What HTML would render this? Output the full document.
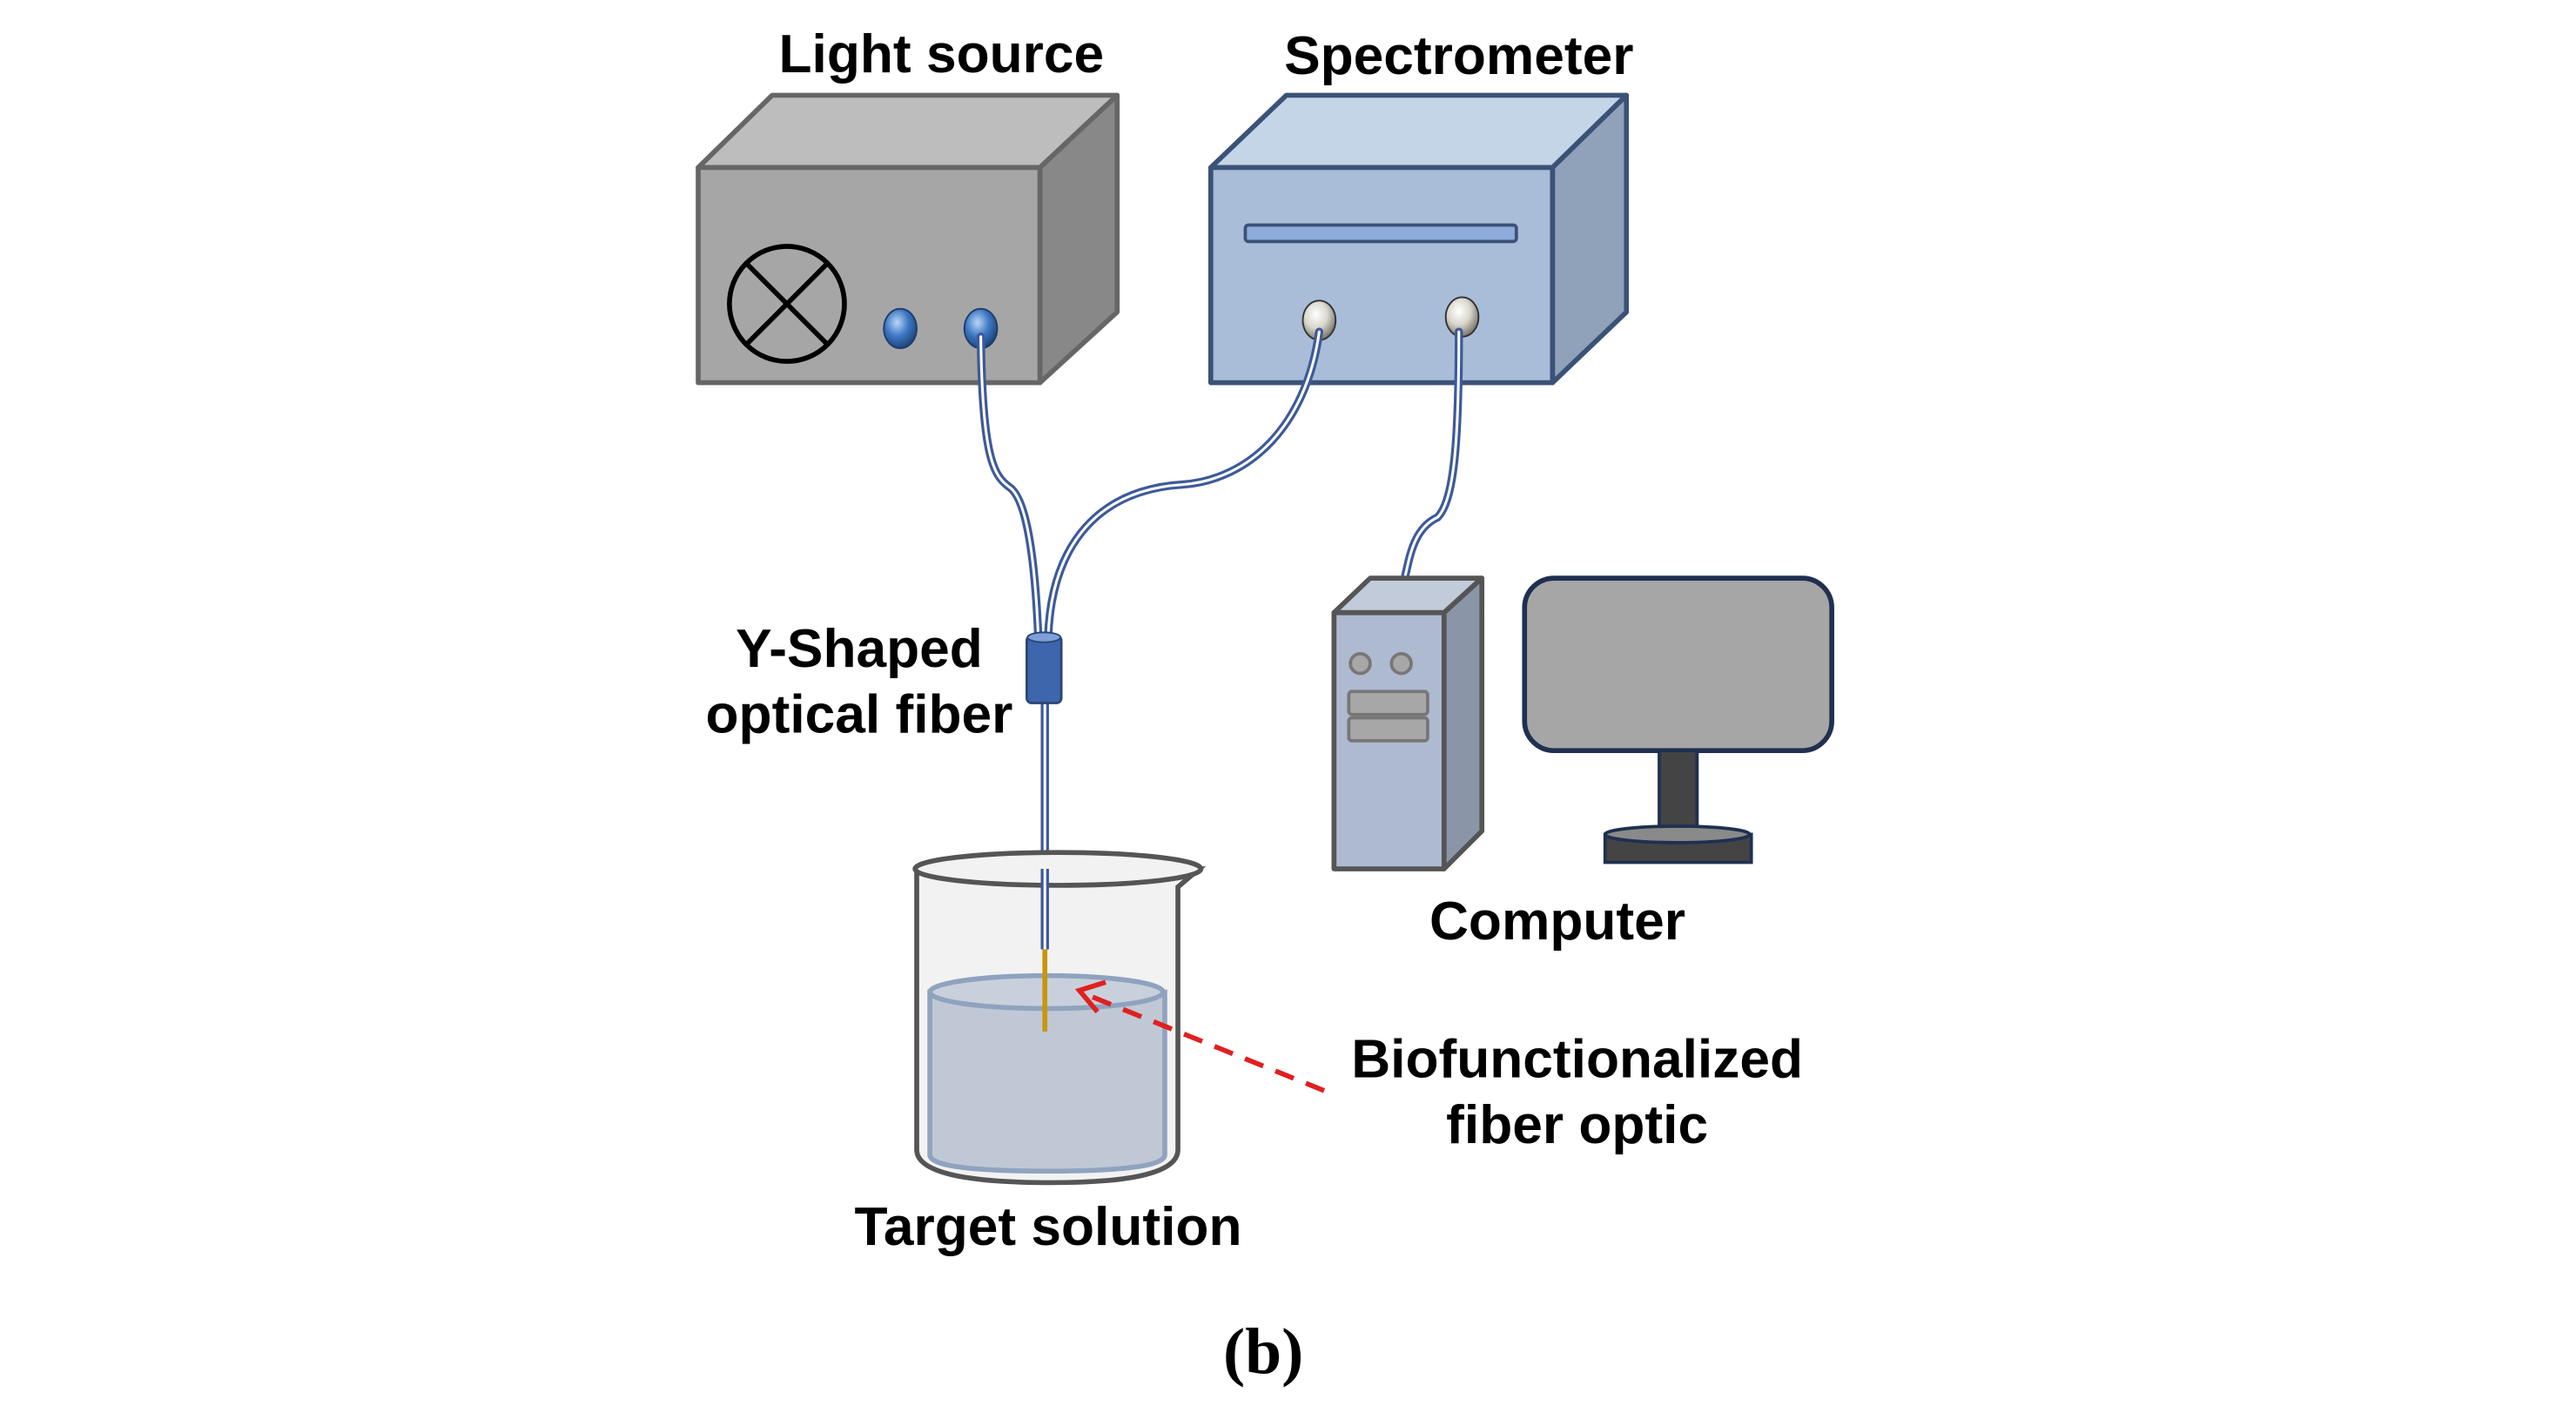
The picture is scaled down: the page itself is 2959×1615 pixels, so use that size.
<!DOCTYPE html>
<html><head><meta charset="utf-8"><style>html,body{margin:0;padding:0;background:#fff}svg{display:block}</style></head>
<body>
<svg width="2959" height="1615" viewBox="0 0 1568 856" preserveAspectRatio="none" xmlns="http://www.w3.org/2000/svg">
<defs>
<radialGradient id="kb" cx="0.4" cy="0.35" r="0.7"><stop offset="0" stop-color="#bcd6f5"/><stop offset="0.5" stop-color="#3d78c4"/><stop offset="1" stop-color="#1c3d6e"/></radialGradient>
<radialGradient id="kw" cx="0.4" cy="0.35" r="0.7"><stop offset="0" stop-color="#ffffff"/><stop offset="0.5" stop-color="#d9d6cc"/><stop offset="1" stop-color="#6e6a60"/></radialGradient>
</defs>
<g font-family="Liberation Sans, Arial, sans-serif" font-weight="bold" font-size="33" fill="#000" text-anchor="middle">
<text x="573" y="44">Light source</text>
<text x="888" y="45">Spectrometer</text>
<text x="523" y="406">Y-Shaped</text>
<text x="523" y="446">optical fiber</text>
<text x="948" y="572">Computer</text>
<text x="960" y="656">Biofunctionalized</text>
<text x="960" y="696">fiber optic</text>
<text x="638" y="758">Target solution</text>
</g>
<text x="769" y="836" font-family="Liberation Serif, serif" font-weight="bold" font-size="40" text-anchor="middle">(b)</text>
<g stroke="#666" stroke-width="3" stroke-linejoin="round">
<polygon points="425,102 470,58 680,58 633,102" fill="#bdbdbd"/>
<polygon points="633,102 680,58 680,190 633,233" fill="#888"/>
<rect x="425" y="102" width="208" height="131" fill="#a6a6a6"/>
</g>
<circle cx="479" cy="185" r="35" fill="none" stroke="#000" stroke-width="3"/>
<line x1="454" y1="160" x2="504" y2="210" stroke="#000" stroke-width="3"/>
<line x1="504" y1="160" x2="454" y2="210" stroke="#000" stroke-width="3"/>
<ellipse cx="548" cy="200" rx="10" ry="12" fill="url(#kb)" stroke="#1c3d6e"/>
<ellipse cx="597" cy="200" rx="10" ry="12" fill="url(#kb)" stroke="#1c3d6e"/>
<g stroke="#3b5277" stroke-width="3" stroke-linejoin="round">
<polygon points="737,102 783,58 990,58 945,102" fill="#c5d5e8"/>
<polygon points="945,102 990,58 990,190 945,233" fill="#8fa2b9"/>
<rect x="737" y="102" width="208" height="131" fill="#a9bdd8"/>
<rect x="758" y="137" width="165" height="10" rx="2" fill="#8eabdb" stroke-width="2"/>
</g>
<ellipse cx="803" cy="195" rx="10" ry="12" fill="url(#kw)" stroke="#333"/>
<ellipse cx="890" cy="193" rx="10" ry="12" fill="url(#kw)" stroke="#333"/>
<g fill="none" stroke-linecap="round">
<g stroke="#3d5a99" stroke-width="5">
<path d="M597,205 C598,280 605,290 615,297 C625,305 630,340 632,388"/>
<path d="M803,202 C795,260 760,292 720,295 C670,298 640,330 638,388"/>
<path d="M888,202 C888,270 885,305 875,315 C860,322 858,340 855,352"/>
<path d="M636,428 L636,578"/>
</g>
<g stroke="#fff" stroke-width="1.6">
<path d="M597,205 C598,280 605,290 615,297 C625,305 630,340 632,388"/>
<path d="M803,202 C795,260 760,292 720,295 C670,298 640,330 638,388"/>
<path d="M888,202 C888,270 885,305 875,315 C860,322 858,340 855,352"/>
<path d="M636,428 L636,578"/>
</g>
</g>
<rect x="625" y="387" width="21" height="41" rx="3" fill="#3e66ad" stroke="#2a4578" stroke-width="1.5"/>
<ellipse cx="635.5" cy="388" rx="10" ry="3" fill="#7ea0d8" stroke="#2a4578"/>
<path d="M558,529 L558,700 Q558,720 640,720 Q717,720 717,700 L717,540 L730,529 Z" fill="#f2f2f2" stroke="#555" stroke-width="3"/>
<path d="M566,604 L566,703 Q566,713 637,713 Q709,713 709,703 L709,604 Z" fill="#c0c8d5" stroke="#8fa3bf" stroke-width="3"/>
<ellipse cx="637" cy="604" rx="71" ry="10" fill="#c8d0dc" stroke="#8fa3bf" stroke-width="3"/>
<ellipse cx="644" cy="529" rx="87" ry="10" fill="#f2f2f2" stroke="#555" stroke-width="3"/>
<line x1="636" y1="529" x2="636" y2="578" stroke="#3d5a99" stroke-width="5"/>
<line x1="636" y1="529" x2="636" y2="578" stroke="#fff" stroke-width="1.6"/>
<line x1="636" y1="578" x2="636" y2="628" stroke="#c8960c" stroke-width="3"/>
<line x1="806" y1="664" x2="665" y2="607" stroke="#e02020" stroke-width="3" stroke-dasharray="12,8"/>
<polyline points="673,598 657,603 668,616" fill="none" stroke="#e02020" stroke-width="3"/>
<g stroke="#555" stroke-width="3" stroke-linejoin="round">
<polygon points="812,373 834,352 902,352 879,373" fill="#c2cbd9"/>
<polygon points="879,373 902,352 902,506 879,529" fill="#8a96a8"/>
<rect x="812" y="373" width="67" height="156" fill="#adbad0"/>
</g>
<g stroke="#777" stroke-width="2" fill="#a7a7a7">
<circle cx="828" cy="404" r="6"/><circle cx="853" cy="404" r="6"/>
<rect x="821" y="421" width="48" height="14" rx="2"/>
<rect x="821" y="437" width="48" height="14" rx="2"/>
</g>
<rect x="928" y="352" width="187" height="105" rx="18" fill="#a6a6a6" stroke="#1f3050" stroke-width="3"/>
<rect x="1010" y="457" width="23" height="48" fill="#444" stroke="#1f3050" stroke-width="2"/>
<rect x="977" y="508" width="89" height="17" fill="#444" stroke="#1f3050" stroke-width="2"/>
<ellipse cx="1021" cy="508" rx="44" ry="5" fill="#8a8a8a" stroke="#1f3050" stroke-width="2"/>
</svg>
</body></html>
